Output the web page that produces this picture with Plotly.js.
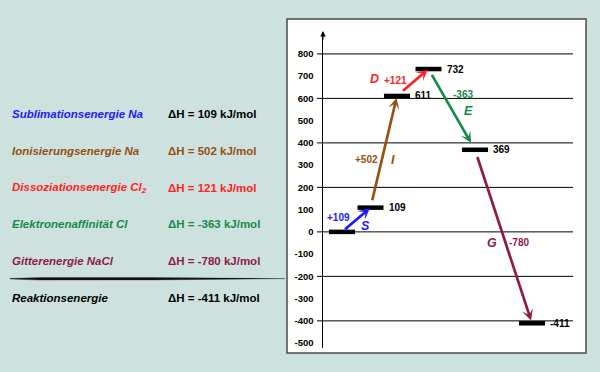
<!DOCTYPE html>
<html>
<head>
<meta charset="utf-8">
<script src="https://cdn.plot.ly/plotly-3.0.1.min.js"></script>
<style>html,body{margin:0;padding:0;background:#cde1df;}#chart{width:600px;height:372px;}</style>
</head>
<body>
<div id="chart"></div>
<script>
// ---- data ----
const stepCodes = ['S', 'I', 'D', 'E', 'G'];
const stepNames = ['Sublimationsenergie Na', 'Ionisierungsenergie Na', 'Dissoziationsenergie Cl<sub>2</sub>', 'Elektronenaffinität Cl', 'Gitterenergie NaCl'];
const stepDeltas = [109, 502, 121, -363, -780];
const levels = [0, 109, 611, 732, 369, -411];
const reactionName = 'Reaktionsenergie';
const reactionDelta = -411;
const yTickVals = [-500, -400, -300, -200, -100, 0, 100, 200, 300, 400, 500, 600, 700, 800];
const gridVals = [-400, -200, 0, 200, 400, 600, 800];

// ---- layout / style ----
const stepColors = ['#1a1aff', '#96500f', '#ff1f1f', '#17894a', '#8e1a4b'];
const deltaColors = ['#000000', '#96500f', '#ff1f1f', '#17894a', '#8e1a4b'];
const levelPos = [19, 47.5, 74, 105.5, 152, 209]; // horizontal placement of the levels
const barHalf = 13;
const PL = 323, PR = 573, PT = 35, PB = 348;
const px2x = p => (p - PL) / (PR - PL);
const py2y = p => (PB - p) / (PB - PT);
const FONT = 'Liberation Sans, Arial, Helvetica, sans-serif';
const labelShift = [
  {d: [-18, 2], s: [9, -6]},
  {d: [-17, -8], s: [9, -8]},
  {d: [-17, 2], s: [-38, 4]},
  {d: [11, 15], s: [17, -2]},
  {d: [15, -6], s: [-12, -6]}
];
const arrowStand = [[2, 1], [6, 2], [6, 1], [5, 8], [6, 3]];

// bars
const bx = [], by = [];
levels.forEach((v, i) => { bx.push(levelPos[i] - barHalf, levelPos[i] + barHalf, null); by.push(v, v, null); });
const traces = [{
  type: 'scatter', mode: 'lines', x: bx, y: by,
  line: {color: '#000', width: 4.5}, hoverinfo: 'skip', showlegend: false
}];

const annotations = [];
const shapes = [];

// white box
shapes.push({type: 'rect', xref: 'paper', yref: 'paper', x0: px2x(287), x1: px2x(586), y0: py2y(353), y1: py2y(19),
  fillcolor: '#ffffff', line: {color: '#4a4a4a', width: 1.5}, layer: 'below'});
// gridlines
gridVals.forEach(g => shapes.push({type: 'line', xref: 'paper', yref: 'y', x0: px2x(317), x1: 1, y0: g, y1: g,
  line: {color: '#000', width: 1}, layer: 'below'}));
// swoosh under list
(function () {
  const pts = [[10, 278.4], [40, 277.5], [150, 277.5], [285, 278.6], [150, 280.0], [40, 280.1], [10, 279.0]];
  let d = 'M ' + pts.map(p => px2x(p[0]).toFixed(4) + ',' + py2y(p[1]).toFixed(4)).join(' L ') + ' Z';
  shapes.push({type: 'path', xref: 'paper', yref: 'paper', path: d, fillcolor: '#111', line: {color: '#111', width: 0.3}});
})();

// y axis arrow tip
annotations.push({xref: 'paper', yref: 'paper', x: 0, y: py2y(31), ax: 0, ay: 10, showarrow: true,
  arrowhead: 2, arrowsize: 1.1, arrowwidth: 1, arrowcolor: '#000', text: ''});

// step arrows and labels
stepCodes.forEach((c, i) => {
  annotations.push({
    xref: 'x', yref: 'y', axref: 'x', ayref: 'y',
    x: levelPos[i + 1], y: levels[i + 1], ax: levelPos[i], ay: levels[i],
    showarrow: true, arrowhead: 3, arrowsize: 0.7, arrowwidth: 2.7, arrowcolor: stepColors[i],
    startstandoff: arrowStand[i][0], standoff: arrowStand[i][1], text: ''
  });
  const mx = (levelPos[i] + levelPos[i + 1]) / 2, my = (levels[i] + levels[i + 1]) / 2;
  const dl = (stepDeltas[i] > 0 ? '+' : '') + stepDeltas[i];
  annotations.push({xref: 'x', yref: 'y', x: mx, y: my, xshift: labelShift[i].d[0], yshift: labelShift[i].d[1],
    text: dl, showarrow: false, font: {family: FONT, size: 10, color: stepColors[i], weight: 'bold'}});
  annotations.push({xref: 'x', yref: 'y', x: mx, y: my, xshift: labelShift[i].s[0], yshift: labelShift[i].s[1],
    text: '<b><i>' + c + '</i></b>', showarrow: false, font: {family: FONT, size: 12.5, color: stepColors[i]}});
});

// level value labels
levels.forEach((v, i) => {
  if (i === 0) return;
  annotations.push({xref: 'x', yref: 'y', x: levelPos[i] + barHalf, y: v, xshift: 3, xanchor: 'left',
    text: String(v), showarrow: false, font: {family: FONT, size: 10, color: '#000', weight: 'bold'}});
});

// list on the left
const listY = [114, 151, 188, 224, 261];
stepNames.forEach((n, i) => {
  annotations.push({xref: 'paper', yref: 'paper', x: px2x(10), y: py2y(listY[i]), xanchor: 'left', yanchor: 'middle',
    text: '<b><i>' + n + '</i></b>', showarrow: false, font: {family: FONT, size: 11.5, color: stepColors[i]}});
  annotations.push({xref: 'paper', yref: 'paper', x: px2x(166), y: py2y(listY[i]), xanchor: 'left', yanchor: 'middle',
    text: '<b>ΔH = ' + stepDeltas[i] + ' kJ/mol</b>', showarrow: false, font: {family: FONT, size: 11.5, color: deltaColors[i]}});
});
annotations.push({xref: 'paper', yref: 'paper', x: px2x(10), y: py2y(298), xanchor: 'left', yanchor: 'middle',
  text: '<b><i>' + reactionName + '</i></b>', showarrow: false, font: {family: FONT, size: 11.5, color: '#000'}});
annotations.push({xref: 'paper', yref: 'paper', x: px2x(166), y: py2y(298), xanchor: 'left', yanchor: 'middle',
  text: '<b>ΔH = ' + reactionDelta + ' kJ/mol</b>', showarrow: false, font: {family: FONT, size: 11.5, color: '#000'}});

const layout = {
  width: 600, height: 372,
  margin: {l: PL, r: 600 - PR, t: PT, b: 372 - PB, pad: 0},
  paper_bgcolor: '#cde1df', plot_bgcolor: 'rgba(0,0,0,0)',
  showlegend: false,
  xaxis: {range: [0, PR - PL], visible: false, fixedrange: true},
  yaxis: {range: [-522, 885], tickvals: yTickVals, ticktext: yTickVals.map(String),
    showgrid: false, zeroline: false, showline: true, linecolor: '#000', linewidth: 1.5,
    ticks: '', ticklabelstandoff: 6,
    tickfont: {family: FONT, size: 9.5, color: '#000', weight: 'bold'}, fixedrange: true},
  shapes: shapes,
  annotations: annotations
};

Plotly.newPlot('chart', traces, layout, {staticPlot: true, displayModeBar: false});
</script>
</body>
</html>
